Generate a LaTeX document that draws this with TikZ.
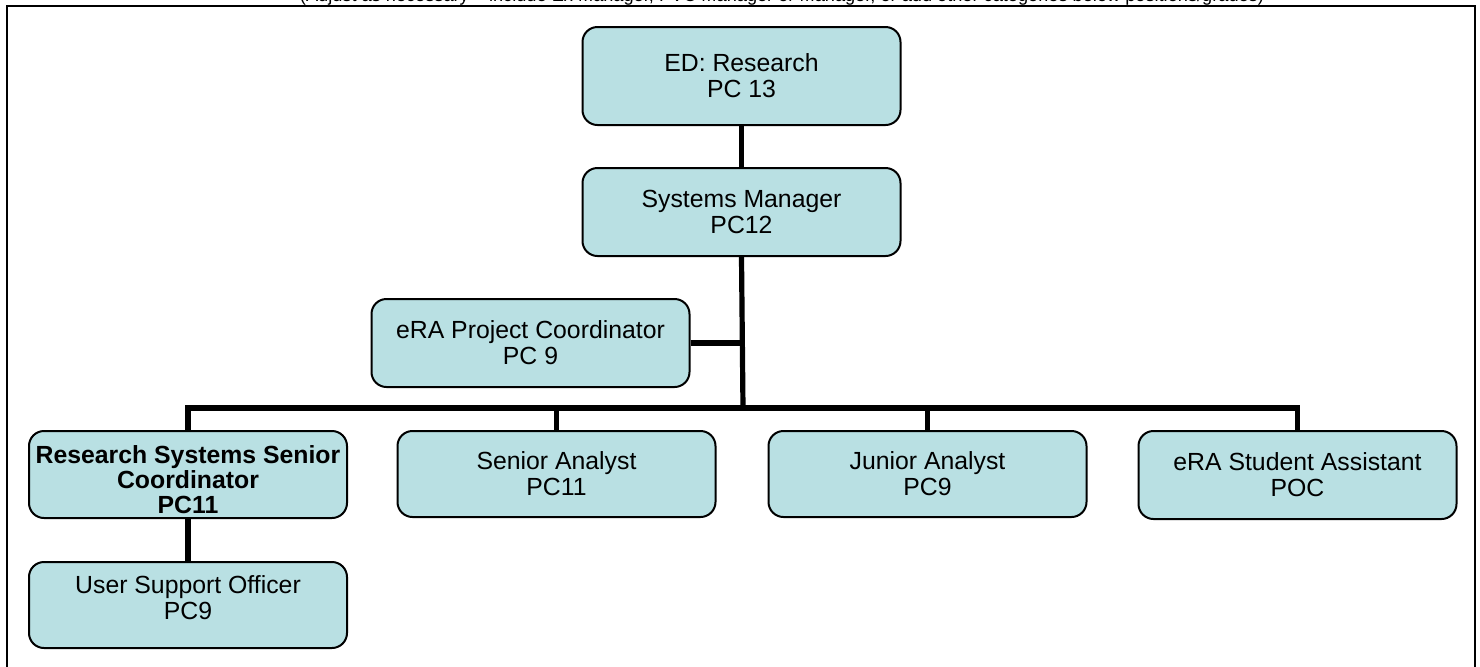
\documentclass[tikz,border=0pt]{standalone}
\usepackage{fontspec}
\setmainfont{Liberation Sans}
\definecolor{boxfill}{HTML}{B9E0E3}
\tikzset{
  orgbox/.style={draw=black, line width=1pt, fill=boxfill, rounded corners=7.5pt,
    align=center, inner sep=0pt, minimum width=159pt, minimum height=44pt,
    font=\fontsize{12.4}{13}\selectfont},
  boxtext/.style={align=center, inner sep=0pt, font=\fontsize{12.4}{13}\selectfont},
  conn/.style={line width=2.6pt, draw=black},
  frame/.style={draw=black, line width=1.1pt}
}
\begin{document}
\begin{tikzpicture}[x=0.5pt, y=-0.5pt]
\useasboundingbox (0,0) rectangle (1480,666);
\clip (0,0) rectangle (1480,666);
\fill[white] (0,0) rectangle (1480,666);
\node[anchor=base, inner sep=0pt, font=\fontsize{9.1}{11}\selectfont] (note) at (782,1)
  {(Adjust as necessary -- include Ex Manager, PVC Manager or Manager, or add other categories below positions/grades)};
\draw[frame] (7,6) rectangle (1475,700);
% nodes
\node[orgbox, minimum height=49pt] (ed) at (741.5,76) {ED: Research\\PC 13};
\node[orgbox] (sm) at (741.5,212) {Systems Manager\\PC12};
\node[orgbox] (epc) at (530.5,343) {eRA Project Coordinator\\PC 9};
\node[orgbox, minimum height=43.5pt] (rssc) at (188,474.5) {};
\node[boxtext, font=\fontsize{12.4}{12.5}\selectfont\bfseries] (rsscT) at (188,480) {Research Systems Senior\\Coordinator\\PC11};
\node[orgbox, minimum height=43pt] (uso) at (188,605) {};
\node[boxtext] (usoT) at (188,597.5) {User Support Officer\\PC9};
\node[orgbox, minimum height=43pt] (sa) at (556.5,474) {Senior Analyst\\PC11};
\node[orgbox, minimum height=43pt] (ja) at (927.5,474) {Junior Analyst\\PC9};
\node[orgbox] (stud) at (1297.5,475) {eRA Student Assistant\\POC};
% connectors
\coordinate (bar) at (743,408);
\draw[conn] (ed.south) -- (sm.north);
\draw[conn] (sm.south) -- (bar);
\draw[conn] (epc.east) -- (epc.east -| sm.south);
\draw[conn] (rssc.north) |- (bar) -| (stud.north);
\draw[conn] (sa.north) -- (sa.north |- bar);
\draw[conn] (ja.north) -- (ja.north |- bar);
\draw[conn] (rssc.south) -- (uso.north);
\end{tikzpicture}
\end{document}
